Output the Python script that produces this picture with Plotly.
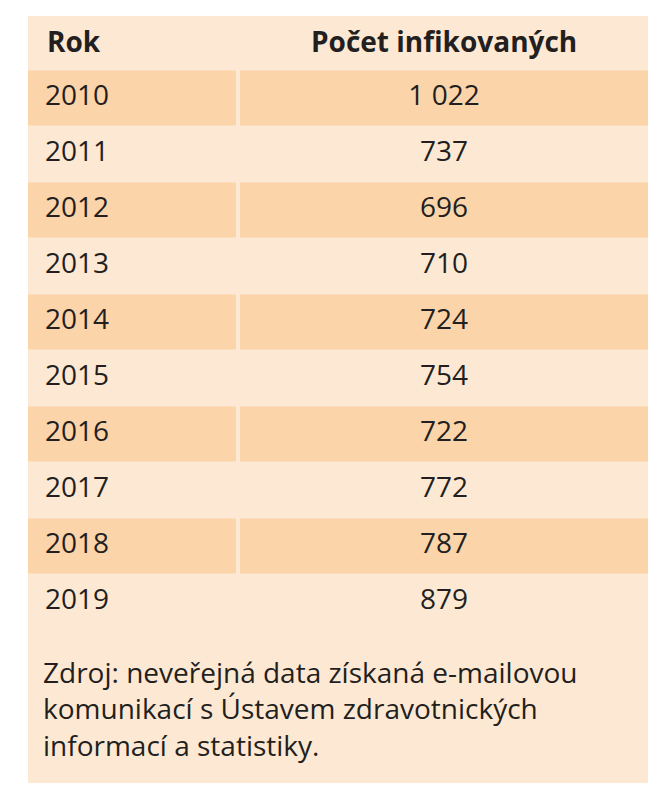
import plotly.graph_objects as go

years = ["2010","2011","2012","2013","2014","2015","2016","2017","2018","2019"]
counts = ["1 022","737","696","710","724","754","722","772","787","879"]
headers = ["<b>Rok</b>", "<b>Počet infikovaných</b>"]
source = "Zdroj: neveřejná data získaná e-mailovou<br>komunikací s Ústavem zdravotnických<br>informací a statistiky."

light = "#fde9d3"
stripe = "#fbd4aa"
ink = "#231f20"
font = dict(family="Open Sans", size=28, color=ink)

rows = list(range(len(years)))
stripe_rows = [i for i in rows if i % 2 == 0]

fig = go.Figure()
fig.add_shape(type="rect", x0=20, x1=640, y0=(8-90)/56, y1=(775-90)/56,
              fillcolor=light, line_width=0, layer="below")
fig.add_trace(go.Bar(y=stripe_rows, x=[208]*len(stripe_rows), base=20, orientation="h",
                     width=0.98, marker=dict(color=stripe, line_width=0), hoverinfo="skip"))
fig.add_trace(go.Bar(y=stripe_rows, x=[408]*len(stripe_rows), base=232, orientation="h",
                     width=0.98, marker=dict(color=stripe, line_width=0), hoverinfo="skip"))
fig.add_trace(go.Scatter(x=[37]*len(years), y=rows, text=years, mode="text",
                         textposition="middle right", textfont=font, hoverinfo="skip"))
fig.add_trace(go.Scatter(x=[436]*len(counts), y=rows, text=counts, mode="text",
                         textposition="middle center", textfont=font, hoverinfo="skip"))
fig.add_annotation(x=37, y=(33-90)/56, text=headers[0], xanchor="left", showarrow=False, font=font)
fig.add_annotation(x=436, y=(33-90)/56, text=headers[1], xanchor="center", showarrow=False, font=font)
fig.add_annotation(text=source, x=33, y=(643-90)/56, xanchor="left", yanchor="top", align="left",
                   showarrow=False, font=font)
fig.update_layout(width=662, height=800, margin=dict(l=0, r=0, t=0, b=0),
                  paper_bgcolor="white", plot_bgcolor="white", showlegend=False,
                  barmode="overlay",
                  xaxis=dict(visible=False, range=[0, 662]),
                  yaxis=dict(visible=False, range=[(800-90)/56, -90/56]))
fig.write_html("out.html")
